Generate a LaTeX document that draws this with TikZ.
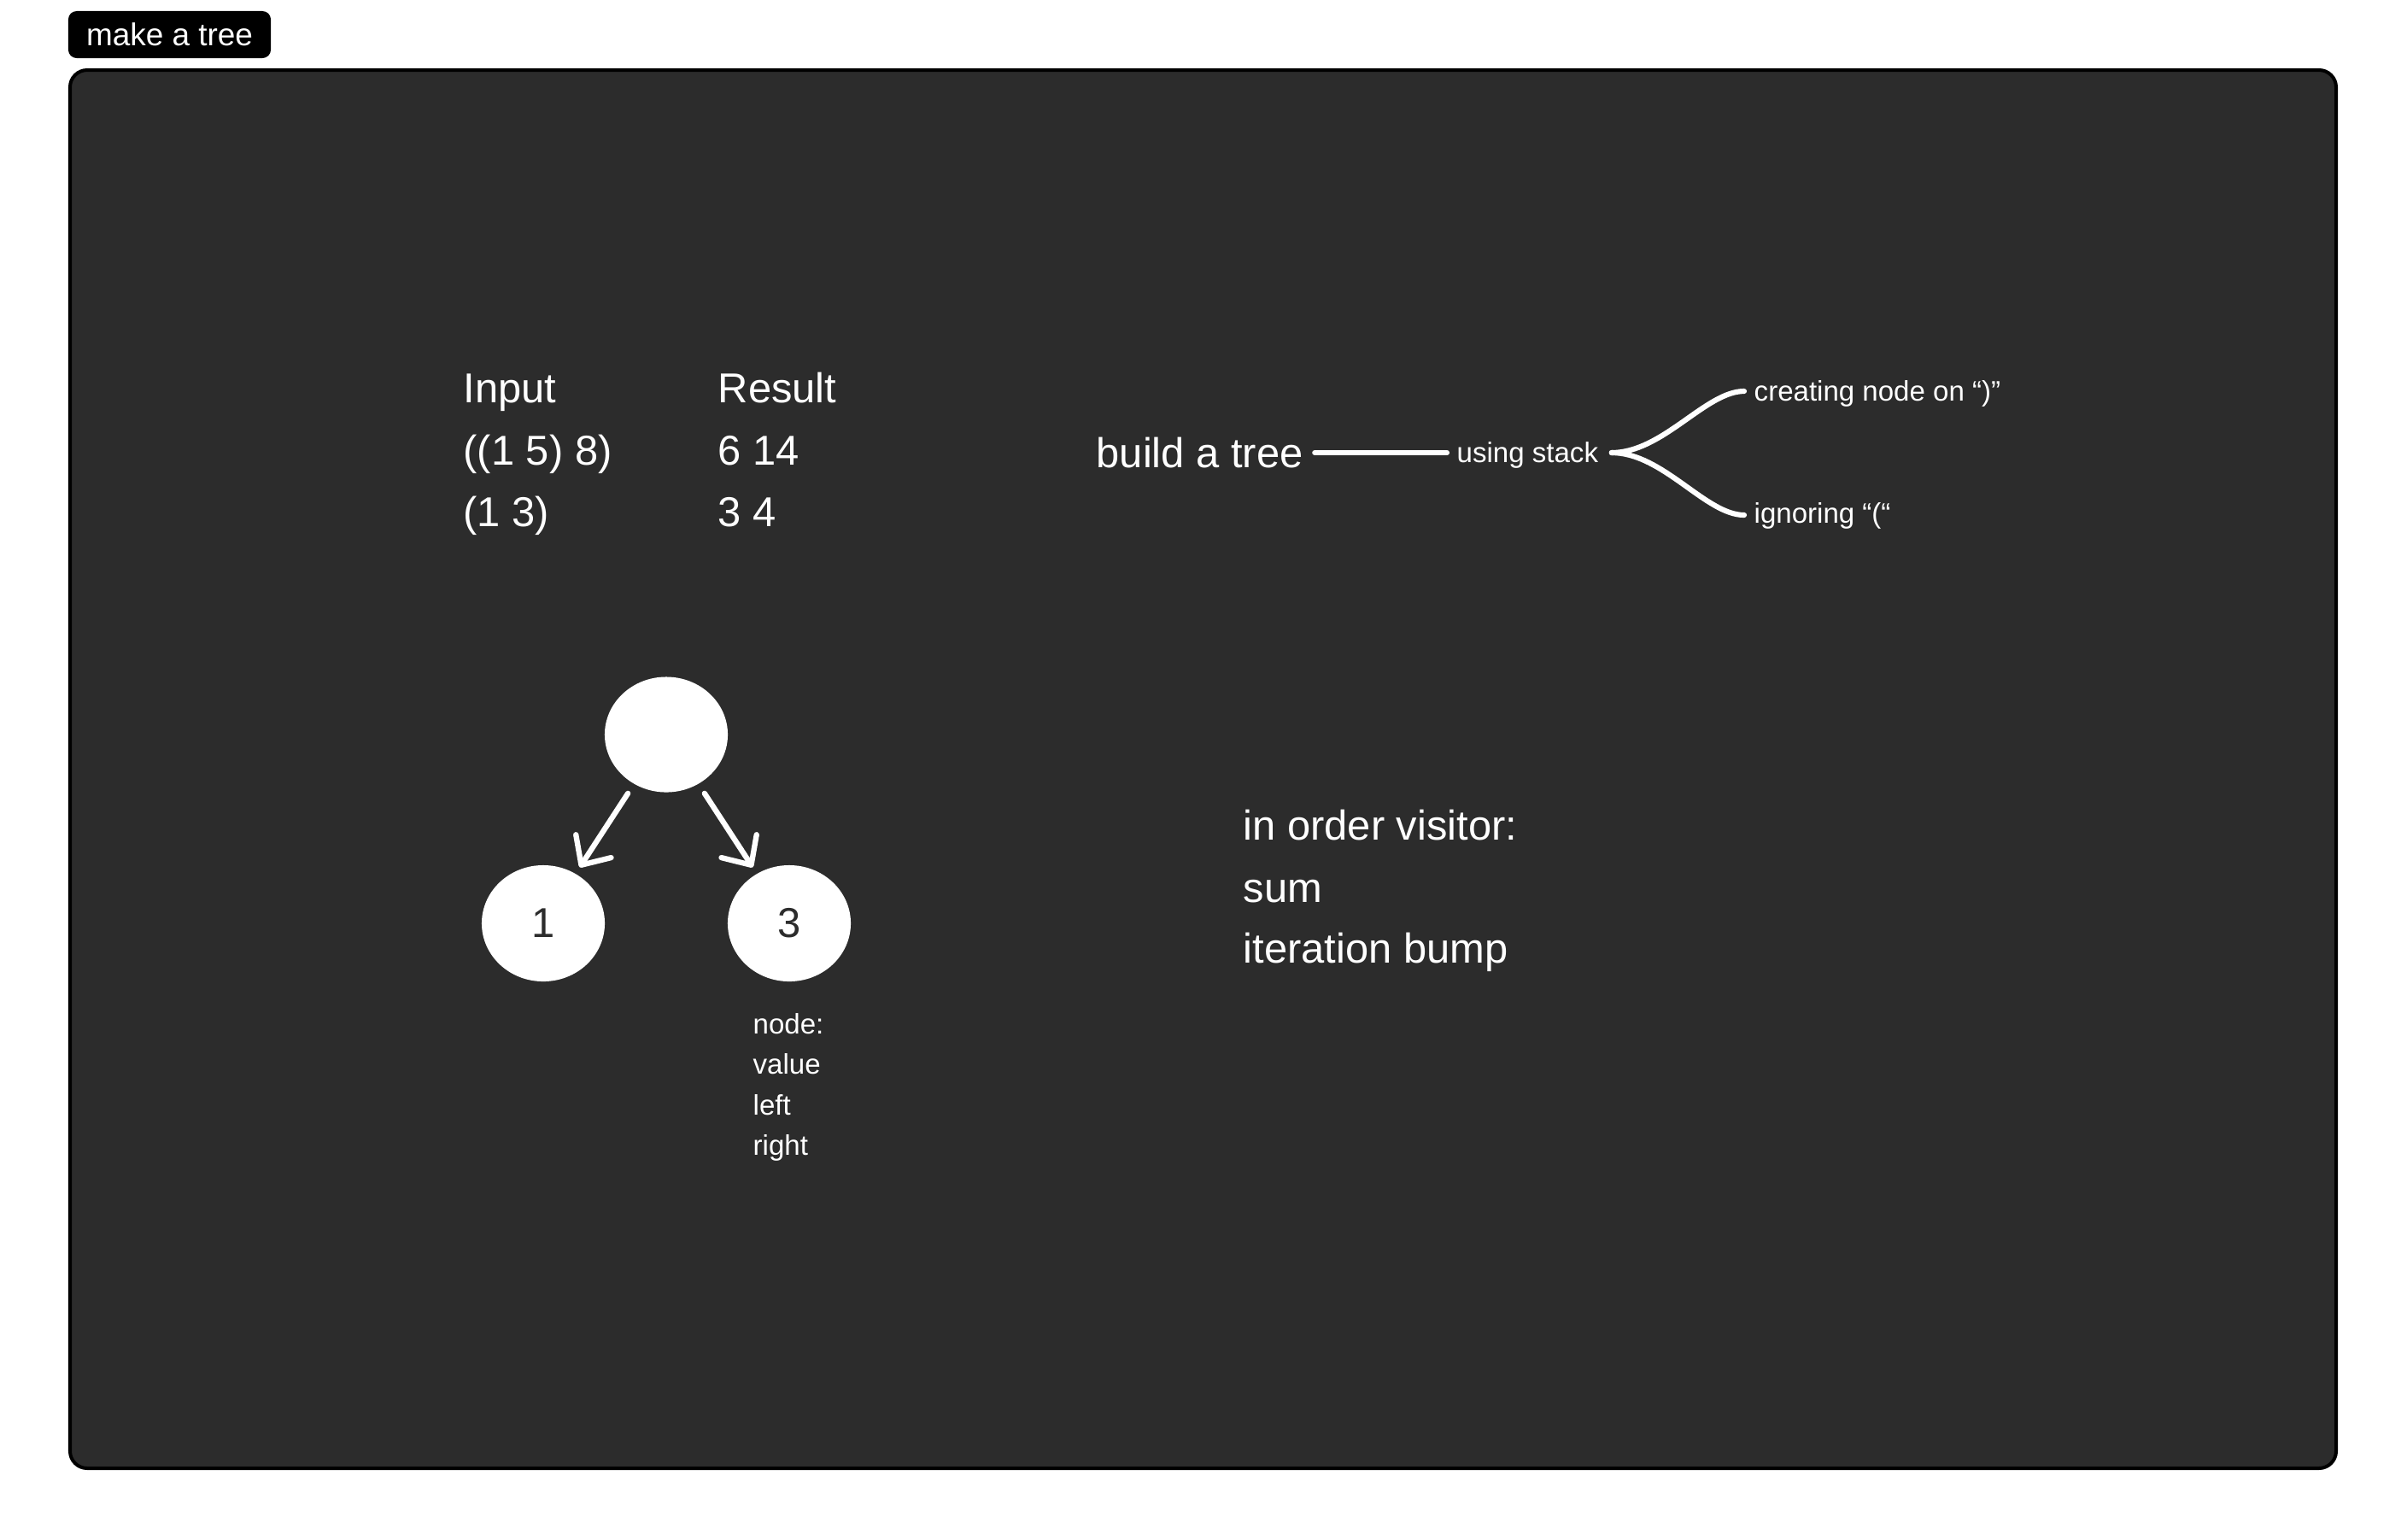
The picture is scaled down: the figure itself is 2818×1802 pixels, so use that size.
\documentclass[tikz,border=0pt]{standalone}
\usepackage{fontspec}
\setmainfont{Liberation Sans}
\usetikzlibrary{shapes.geometric,arrows.meta,calc}
\definecolor{framebg}{HTML}{2C2C2C}
\definecolor{nodetext}{HTML}{2C2C2C}
\tikzset{
  big/.style={text=white, font=\fontsize{13.9}{16}\selectfont, anchor=base west, inner sep=0pt},
  small/.style={text=white, font=\fontsize{9.4}{11}\selectfont, anchor=base west, inner sep=0pt},
  treenode/.style={ellipse, fill=white, draw=none, minimum width=1.44cm, minimum height=1.36cm, inner sep=0pt, text=nodetext, font=\fontsize{13.9}{16}\selectfont},
  conn/.style={draw=white, line width=1.75pt, line cap=round},
  treearrow/.style={draw=white, line width=1.8pt, line cap=round, -{Straight Barb[length=7.5pt,width=14pt,round]}, shorten <=3.6pt, shorten >=2.4pt},
  titlebox/.style={fill=black, rounded corners=2.8pt, minimum width=2.37cm, minimum height=0.55cm, inner sep=0pt, text=white, font=\fontsize{10.5}{12}\selectfont}
}
\begin{document}
\begin{tikzpicture}[x=0.01cm,y=-0.01cm]
\useasboundingbox (0,0) rectangle (2818,1802);
\fill[white] (0,0) rectangle (2818,1802);
% frame
\draw[fill=framebg, draw=black, line width=1.14pt, rounded corners=5.7pt] (82,82) rectangle (2735,1719);
\node[titlebox] (title) at (198.5,40.5) {make a tree};
% input / result
\node[big] (in1) at (542,471.7) {Input};
\node[big] (in2) at (542,544) {((1 5) 8)};
\node[big] (in3) at (542,616) {(1 3)};
\node[big] (r1) at (840,471.7) {Result};
\node[big] (r2) at (840,544) {6 14};
\node[big] (r3) at (840,616) {3 4};
% build a tree mind map
\node[big] (build) at (1283,547.7) {build a tree};
\node[small] (stack) at (1705,541.7) {using stack};
\node[small] (creating) at (2053,469) {creating node on “)”};
\node[small] (ignoring) at (2053,612.7) {ignoring “(“};
\draw[conn] ([shift={(13,-17.7)}]build.base east) -- ([shift={(-11,-11.7)}]stack.base west);
\draw[conn] ([shift={(15,-11.7)}]stack.base east) .. controls +(60,0) and +(-45,0) .. ([shift={(-11,-11)}]creating.base west);
\draw[conn] ([shift={(15,-11.7)}]stack.base east) .. controls +(60,0) and +(-45,0) .. ([shift={(-11,-9.7)}]ignoring.base west);
% tree
\node[treenode, minimum height=1.35cm] (root) at (780,860) {};
\node[treenode] (n1) at (636,1081) {1};
\node[treenode] (n3) at (924,1081) {3};
\draw[treearrow] (root) -- (n1);
\draw[treearrow] (root) -- (n3);
% node info
\node[small] (ni1) at (881,1210) {node:};
\node[small] (ni2) at (881,1257) {value};
\node[small] (ni3) at (881,1305.7) {left};
\node[small] (ni4) at (881,1352.7) {right};
% visitor
\node[big] (v1) at (1455,983) {in order visitor:};
\node[big] (v2) at (1455,1056) {sum};
\node[big] (v3) at (1455,1127) {iteration bump};
\end{tikzpicture}
\end{document}
